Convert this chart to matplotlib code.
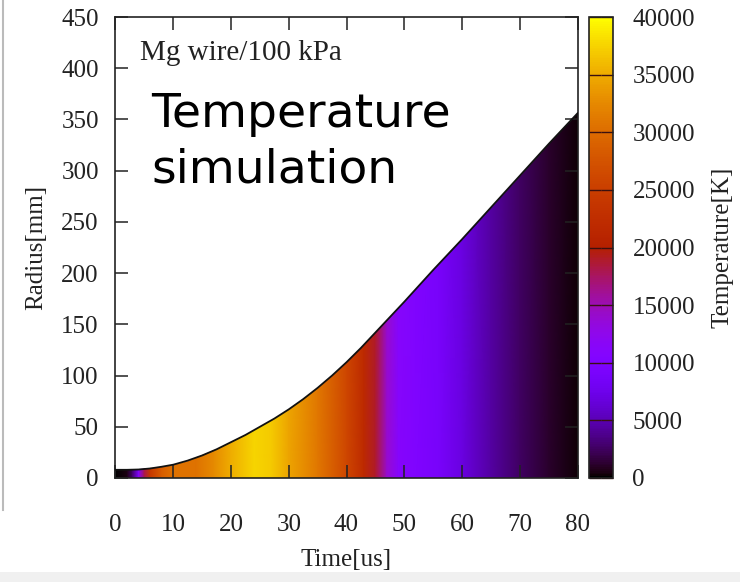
import numpy as np
import matplotlib
matplotlib.use("Agg")
import matplotlib.pyplot as plt
import matplotlib.patches as patches

# radius of the hot region vs time
time_r = [0, 2, 4, 6, 8, 10, 12.5, 15, 17.5, 20, 22.5, 25, 27.5, 30, 32.5, 35,
          37.5, 40, 42.5, 45, 47.5, 50, 55, 60, 65, 70, 75, 80]
radius = [8, 8, 8.3, 9.3, 11, 13, 17, 22, 28, 35, 42, 50, 58, 67, 77, 88,
          100, 113, 127, 142, 157, 172, 203, 233, 264, 295, 326, 356]

# temperature vs time (colour of each column)
time_T = [0, 2, 3, 4, 5, 6, 8, 10, 14, 17, 20, 24, 27, 30, 35, 40, 43, 45,
          47, 49, 52, 56, 60, 65, 70, 75, 80]
temp = [0, 500, 3000, 10000, 18000, 24000, 28500, 30500, 30500, 32500, 35000,
        37500, 37000, 34500, 31000, 26000, 22000, 19000, 14000, 11000, 10000,
        9000, 7000, 4500, 2500, 1200, 300]

x_ticks = list(range(0, 81, 10))
y_ticks = list(range(0, 451, 50))
c_ticks = list(range(0, 40001, 5000))

serif = "Liberation Serif"
txt = "#222222"

fig = plt.figure(figsize=(7.4, 5.82), dpi=100)
ax = fig.add_axes([115.5 / 740, 104 / 582, 462 / 740, 461 / 582])
cax = fig.add_axes([589 / 740, 104 / 582, 24 / 740, 461 / 582])

# temperature field, clipped below the radius curve
mesh = ax.pcolormesh(time_T, [0, 450], np.vstack([temp, temp]), cmap="gnuplot",
                     vmin=0, vmax=40000, shading="gouraud", zorder=1)
poly = patches.Polygon(np.column_stack([time_r + [80, 0], radius + [0, 0]]),
                       closed=True, facecolor="none", edgecolor="none",
                       transform=ax.transData)
ax.add_patch(poly)
mesh.set_clip_path(poly)
ax.plot(time_r, radius, color="#111111", lw=1.3, zorder=3)

ax.set_xlim(0, 80)
ax.set_ylim(0, 450)
ax.set_xticks(x_ticks)
ax.set_yticks(y_ticks)
ax.tick_params(axis="both", direction="in", length=9.5, width=1.1, colors="#222222",
               labelsize=18, top=True, right=True)
ax.tick_params(axis="x", pad=26)
ax.tick_params(axis="y", pad=12)
for lab in ax.get_xticklabels() + ax.get_yticklabels():
    lab.set_fontfamily(serif)
    lab.set_color(txt)
for s in ax.spines.values():
    s.set_linewidth(1.2)
    s.set_color("#222222")
ax.set_xlabel("Time[us]", fontsize=18, family=serif, color=txt, labelpad=9)
ax.set_ylabel("Radius[mm]", fontsize=18, family=serif, color=txt, labelpad=10)

ax.text(0.052, 0.922, "Mg wire/100 kPa", transform=ax.transAxes, fontsize=21,
        family=serif, color=txt, va="center", ha="left")
ax.text(0.078, 0.728, "Temperature\nsimulation", transform=ax.transAxes,
        fontsize=34, family="DejaVu Sans", color="black", va="center", ha="left",
        linespacing=1.3)

# colour bar
cb = fig.colorbar(mesh, cax=cax, ticks=c_ticks)
cb.outline.set_linewidth(1.2)
cb.outline.set_edgecolor("#222222")
cax.tick_params(direction="in", length=8.5, width=1.0, colors="#3a1010",
                left=True, right=True, labelsize=18, pad=14)
for lab in cax.get_yticklabels():
    lab.set_fontfamily(serif)
    lab.set_color(txt)
cb.set_label("Temperature[K]", fontsize=18, family=serif, color=txt, labelpad=12)

# scan artefacts around the border
fig.add_artist(plt.Line2D([3 / 740, 3 / 740], [72 / 582, 1], color="#bbbbbb", lw=1.5))
band = patches.Rectangle((0, 0), 1, 10 / 582, transform=fig.transFigure,
                         facecolor="#f0f0f0", edgecolor="none", zorder=-5)
fig.add_artist(band)

plt.savefig("out.png", dpi=100)
